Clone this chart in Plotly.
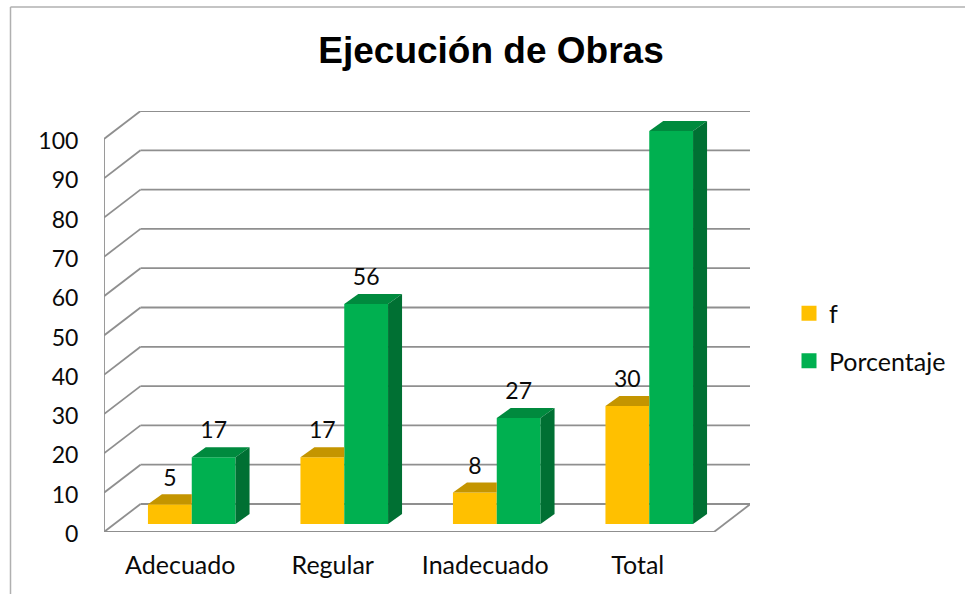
import plotly.graph_objects as go

categories = ["Adecuado", "Regular", "Inadecuado", "Total"]
f_values = [5, 17, 8, 30]
pct_values = [17, 56, 27, 100]
y_ticks = [0, 10, 20, 30, 40, 50, 60, 70, 80, 90, 100]

# Figure geometry (margins place the plot area; the oblique "depth" is in axis units)
W, H = 965, 598
L, R, T, B = 104, 750, 111, 532
SLOT = 152.5            # px per category on the front edge
VAL = 3.93              # px per value unit
DX, DY = 36.5 / SLOT, 28 / VAL     # full depth of the floor
BAR_BASE = 8 / VAL      # height of the bars' front face foot above the front floor edge
BAR_DX, BAR_DY = 14 / SLOT, 10 / VAL   # depth of the bars themselves
BAR_W = 43.8 / SLOT
OFFSET = 11.5 / SLOT

GRID = "#8f8f8f"
COL_F, COL_F_TOP = "#FFC000", "#C49500"
COL_P, COL_P_TOP, COL_P_SIDE = "#00B050", "#008A3E", "#007033"
FONT = "Lato"
TEXT = "#0a0a0a"


def px(x):
    return (x - L) / (R - L)


def py(y):
    return (B - y) / (B - T)


fig = go.Figure()

xpos = [i + 0.5 for i in range(len(categories))]
base = BAR_BASE
xf = [x + OFFSET - BAR_W / 2 for x in xpos]
xp = [x + OFFSET + BAR_W / 2 for x in xpos]

fig.add_bar(x=xf, y=f_values, base=base, width=BAR_W, marker_color=COL_F,
            marker_line_width=0, showlegend=False, name="f")
fig.add_bar(x=xp, y=pct_values, base=base, width=BAR_W, marker_color=COL_P,
            marker_line_width=0, showlegend=False, name="Porcentaje")


def face(xs, ys, color):
    fig.add_scatter(x=xs, y=ys, mode="lines", fill="toself", fillcolor=color,
                    line=dict(width=0, color=color), hoverinfo="skip", showlegend=False)


for cx, v in zip(xf, f_values):
    l, r, top = cx - BAR_W / 2, cx + BAR_W / 2, base + v
    face([l, l + BAR_DX, r, r, l], [top, top + BAR_DY, top + BAR_DY, top, top], COL_F_TOP)

for cx, v in zip(xp, pct_values):
    l, r, top = cx - BAR_W / 2, cx + BAR_W / 2, base + v
    face([l, l + BAR_DX, r + BAR_DX, r, l], [top, top + BAR_DY, top + BAR_DY, top, top], COL_P_TOP)
    face([r, r + BAR_DX, r + BAR_DX, r, r], [top, top + BAR_DY, base + BAR_DY, base, top], COL_P_SIDE)

label_gap = 3.7
for xs, vals in ((xf, f_values), (xp, pct_values)):
    fig.add_scatter(x=xs, y=[base + v + BAR_DY + label_gap for v in vals],
                    mode="text", text=[str(v) for v in vals], textposition="middle center",
                    textfont=dict(family=FONT, size=23, color=TEXT),
                    cliponaxis=False, hoverinfo="skip", showlegend=False)

# legend entries
fig.add_scatter(x=[None], y=[None], mode="markers", name="f", legendgroup="a",
                marker=dict(symbol="square", size=15, color=COL_F))
fig.add_scatter(x=[None], y=[None], mode="markers", name="Porcentaje", legendgroup="b",
                marker=dict(symbol="square", size=15, color=COL_P))

# wireframe: gridlines, wall and floor, all in axis coordinates
n = len(categories)
shapes = []


def seg(x0, y0, x1, y1):
    shapes.append(dict(type="line", xref="x", yref="y", x0=x0, y0=y0, x1=x1, y1=y1,
                       layer="below", line=dict(color=GRID, width=1.8)))


for t in y_ticks:
    seg(0, t, DX, t + DY)
    seg(DX, t + DY, n + DX, t + DY)
seg(0, 0, 0, max(y_ticks))
seg(0, 0, n, 0)
seg(n, 0, n + DX, DY)

# outer chart frame (top and left edges are the ones visible)
for x0, y0, x1, y1 in ((px(10.5), py(7), px(W), py(7)), (px(10.5), py(7), px(10.5), py(594))):
    shapes.append(dict(type="line", xref="paper", yref="paper", x0=x0, y0=y0, x1=x1, y1=y1,
                       layer="below", line=dict(color="#b0b0b0", width=1.5)))

fig.update_layout(
    width=W, height=H, autosize=False,
    margin=dict(l=L, r=W - R, t=T, b=H - B, pad=0),
    paper_bgcolor="white", plot_bgcolor="rgba(0,0,0,0)",
    barmode="overlay",
    font=dict(family=FONT, size=24, color=TEXT),
    title=dict(text="<b>Ejecución de Obras</b>", x=491 / W, y=1 - 50 / H, xanchor="center", yanchor="middle",
               font=dict(family="Liberation Sans", size=37, color="black")),
    xaxis=dict(range=[0, (R - L) / SLOT], tickmode="array", tickvals=xpos, ticktext=categories,
               automargin=False,
               showgrid=False, zeroline=False, showline=False, ticks="outside", ticklen=11,
               tickcolor="rgba(0,0,0,0)", tickfont=dict(family=FONT, size=25, color=TEXT)),
    yaxis=dict(range=[0, (B - T) / VAL], tickmode="array", tickvals=y_ticks,
               automargin=False, ticklabelshift=2,
               showgrid=False, zeroline=False, showline=False, ticks="outside", ticklen=20,
               tickcolor="rgba(0,0,0,0)", tickfont=dict(family=FONT, size=23, color=TEXT)),
    legend=dict(xref="container", yref="container", x=789 / W, y=1 - 337 / H, xanchor="left", yanchor="middle",
                tracegroupgap=12, font=dict(family=FONT, size=25, color=TEXT),
                bgcolor="rgba(0,0,0,0)", itemclick=False, itemdoubleclick=False),
    shapes=shapes,
)

fig.write_html("out.html", post_script="document.body.style.margin='0';",
               config={"displayModeBar": False})
